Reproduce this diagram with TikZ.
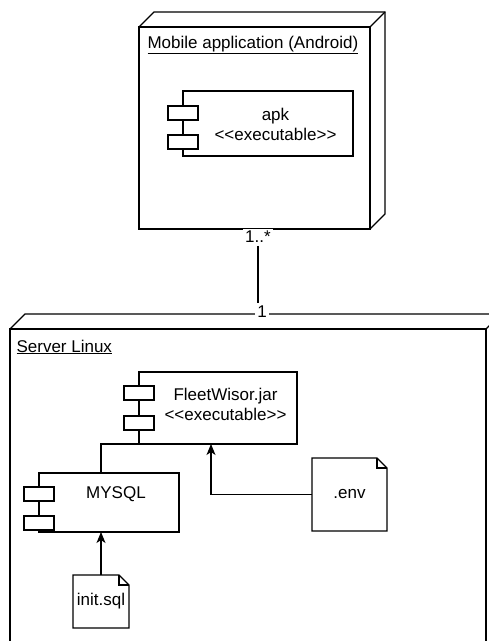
\documentclass[tikz,border=0pt]{standalone}
\usepackage{fontspec}
\setmainfont{Liberation Sans}
\usetikzlibrary{arrows.meta,calc,positioning}

\tikzset{
  frontface/.style={draw, inner sep=0pt, outer sep=0pt, anchor=north west},
  compbox/.style={draw, inner sep=0pt, outer sep=0pt, anchor=north west},
  compbar/.style={draw, fill=white, inner sep=0pt, outer sep=0pt, minimum width=30, minimum height=14, anchor=north},
  notebox/.style={inner sep=0pt, outer sep=0pt},
  tag/.style={inner sep=2.5pt, fill=white},
  dep/.style={-{Stealth[length=11pt,width=9pt,inset=3pt]}},
}
\newcommand{\boxdepth}[1]{%
  \draw (#1.north west) -- ++(15,-15) -| ($(#1.south east)+(15,-15)$) -- (#1.south east);
  \draw (#1.north east) -- ++(15,-15);}
\newcommand{\dogear}[1]{%
  \draw (#1.north west) -- ($(#1.north east)+(-10,0)$) -- ($(#1.north east)+(0,10)$) -- (#1.south east) -- (#1.south west) -- cycle;
  \draw ($(#1.north east)+(-10,0)$) -- ++(0,10) -- ++(10,0);}
\newcommand{\stereo}[1]{<\kern0pt<#1>\kern0pt>}

\begin{document}
\begin{tikzpicture}[x=1pt, y=-1pt, line width=1.1pt, font=\fontsize{17}{20}\selectfont]
\useasboundingbox (0,0) rectangle (489,641);
\clip (0,0) rectangle (489,641);

\node[frontface, minimum width=231, minimum height=202] (mobile) at (139,27) {};
\boxdepth{mobile}
\node[anchor=base west, inner sep=0pt] (mobilelbl) at (147,48) {\underline{Mobile application (Android)}};
\node[compbox, minimum width=170, minimum height=65] (apk) at (183,91) {};
\node[compbar] (apkbar1) at ($(apk.north west)+(0,15)$) {};
\node[compbar] (apkbar2) at ($(apk.north west)+(0,44)$) {};
\node[align=center, inner sep=0pt] (apktxt) at (275.5,124) {apk\\\stereo{executable}};

\node[frontface, minimum width=476, minimum height=340] (server) at (10,329) {};
\boxdepth{server}
\node[anchor=base west, inner sep=0pt] (serverlbl) at (16,352) {\underline{Server Linux}};

\node[compbox, minimum width=158, minimum height=72] (jar) at (139,372) {};
\node[compbar] (jarbar1) at ($(jar.north west)+(0,14)$) {};
\node[compbar] (jarbar2) at ($(jar.north west)+(0,44)$) {};
\node[align=center, inner sep=0pt] (jartxt) at (225.5,404) {FleetWisor.jar\\\stereo{executable}};

\node[compbox, minimum width=140, minimum height=59] (mysql) at (39,473) {};
\node[compbar] (mysqlbar1) at ($(mysql.north west)+(0,14)$) {};
\node[compbar] (mysqlbar2) at ($(mysql.north west)+(0,43)$) {};
\node[anchor=base, inner sep=0pt] (mysqltxt) at (116,498) {MYSQL};

\node[notebox, minimum width=75, minimum height=73] (env) at (349.5,494.5) {.env};
\dogear{env}
\node[notebox, minimum width=56, minimum height=53] (init) at (101,601.5) {init.sql};
\dogear{init}

\draw[dep] (env.west) -| ($(jar.south west)+(72,0)$);
\draw[dep] (init.north) -- (init.north |- mysql.south);
\draw (jar.south west) -| (init.north |- mysql.north);

\node[tag] (multmobile) at (258,237) {1..*};
\node[tag] (multserver) at (262,312) {1};
\draw (multmobile.south) -- (multmobile.south |- multserver.north);
\end{tikzpicture}
\end{document}
